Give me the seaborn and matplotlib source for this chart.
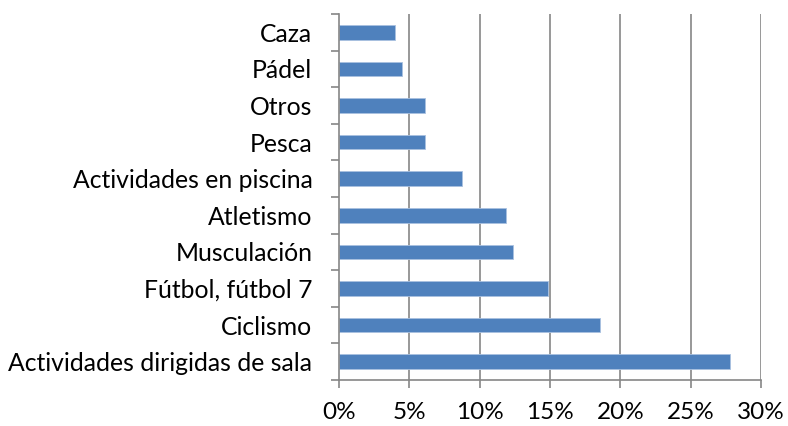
import matplotlib
matplotlib.use("Agg")
import matplotlib.pyplot as plt
import seaborn as sns
import pandas as pd
import numpy as np
from matplotlib.ticker import FuncFormatter, FixedLocator

categories = ["Caza", "Pádel", "Otros", "Pesca", "Actividades en piscina",
              "Atletismo", "Musculación", "Fútbol, fútbol 7", "Ciclismo",
              "Actividades dirigidas de sala"]
values = [4.0, 4.5, 6.15, 6.15, 8.75, 11.85, 12.35, 14.85, 18.55, 27.8]
xticks = [0, 5, 10, 15, 20, 25, 30]

sns.set_theme(style="white")
plt.rcParams['font.family'] = ['Lato', 'DejaVu Sans']

df = pd.DataFrame({"cat": categories, "val": values})

fig = plt.figure(figsize=(7.88, 4.26), dpi=100)
ax = fig.add_axes([0.430, 0.108, 0.536, 0.859])
sns.barplot(data=df, x="val", y="cat", order=categories, color="#4F81BD",
            width=0.4, saturation=1, ax=ax, edgecolor="#A9C1E0", linewidth=0.6)

ax.set_xlim(0, 30)
ax.set_ylim(len(categories) - 0.5, -0.5)
ax.set_xticks(xticks)
ax.xaxis.set_major_formatter(FuncFormatter(lambda v, p: f"{int(v)}%"))
ax.set_xlabel("")
ax.set_ylabel("")
for x in xticks[1:]:
    ax.axvline(x, color="#868686", linewidth=1.2, zorder=0)

for s in ["top", "right"]:
    ax.spines[s].set_visible(False)
for s in ["left", "bottom"]:
    ax.spines[s].set_color("#868686")
    ax.spines[s].set_linewidth(1.2)

ax.tick_params(axis="x", which="major", length=6, width=1.2, color="#868686",
               direction="out", labelsize=17.5, pad=10, bottom=True)
ax.tick_params(axis="y", which="major", length=0, labelsize=17.8, pad=19)
ax.yaxis.set_minor_locator(FixedLocator(np.arange(-0.5, len(categories), 1)))
ax.tick_params(axis="y", which="minor", length=6, width=1.2, color="#868686",
               direction="out", left=True)
for lab in ax.get_xticklabels() + ax.get_yticklabels():
    lab.set_color("black")

fig.savefig("out.png", dpi=100)
